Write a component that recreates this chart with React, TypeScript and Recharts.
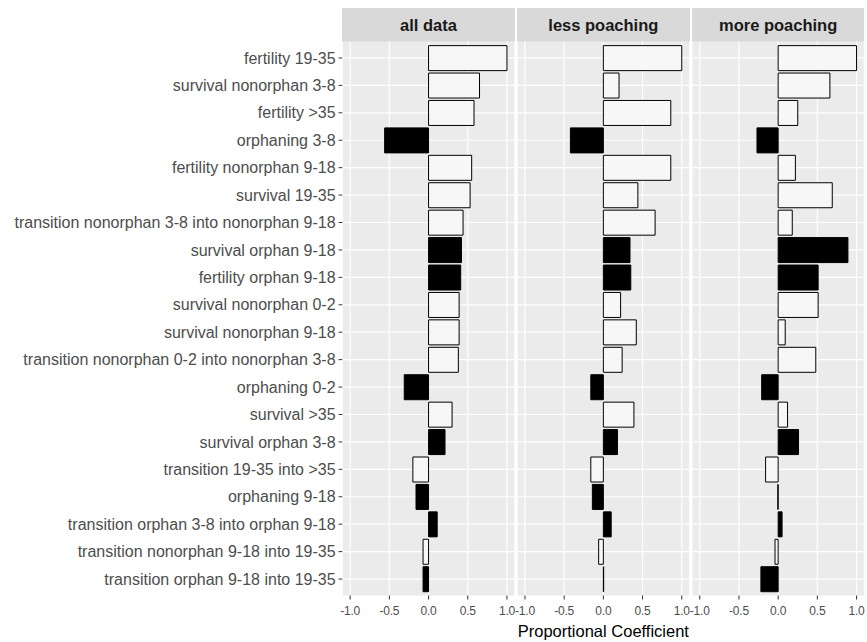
import React from 'react';
import { BarChart, Bar, Cell, XAxis, YAxis, CartesianGrid, ReferenceLine } from 'recharts';

const CATEGORIES = [
  'fertility 19-35',
  'survival nonorphan 3-8',
  'fertility >35',
  'orphaning 3-8',
  'fertility nonorphan 9-18',
  'survival 19-35',
  'transition nonorphan 3-8 into nonorphan 9-18',
  'survival orphan 9-18',
  'fertility orphan 9-18',
  'survival nonorphan 0-2',
  'survival nonorphan 9-18',
  'transition nonorphan 0-2 into nonorphan 3-8',
  'orphaning 0-2',
  'survival >35',
  'survival orphan 3-8',
  'transition 19-35 into >35',
  'orphaning 9-18',
  'transition orphan 3-8 into orphan 9-18',
  'transition nonorphan 9-18 into 19-35',
  'transition orphan 9-18 into 19-35',
];

// which rows concern orphans (drawn filled)
const KIND = [
  'other', 'other', 'other', 'orphan', 'other', 'other', 'other', 'orphan', 'orphan', 'other',
  'other', 'other', 'orphan', 'other', 'orphan', 'other', 'orphan', 'orphan', 'other', 'orphan',
];

const ALL_DATA = [
  1.0, 0.65, 0.58, -0.56, 0.55, 0.53, 0.44, 0.42, 0.41, 0.39,
  0.39, 0.38, -0.31, 0.3, 0.21, -0.2, -0.16, 0.11, -0.07, -0.07,
];
const LESS_POACHING = [
  1.0, 0.2, 0.86, -0.42, 0.86, 0.44, 0.66, 0.34, 0.35, 0.22,
  0.42, 0.24, -0.16, 0.39, 0.18, -0.16, -0.14, 0.1, -0.06, 0.004,
];
const MORE_POACHING = [
  1.0, 0.66, 0.25, -0.27, 0.22, 0.69, 0.18, 0.89, 0.51, 0.51,
  0.09, 0.48, -0.21, 0.12, 0.26, -0.16, -0.004, 0.05, -0.04, -0.22,
];

const FACETS = ['all data', 'less poaching', 'more poaching'];
const FACET_VALUES = [ALL_DATA, LESS_POACHING, MORE_POACHING];
const X_TICKS = [-1, -0.5, 0, 0.5, 1];

const W = 867;
const H = 642;
const PANEL_TOP = 41.5;
const PANEL_BOTTOM = 595.5;
const PANEL_W = 172.5;
const PANEL_LEFT = [342.3, 517.1, 691.9];
const X_AXIS_H = 30;
const BAND_PAD = 2.74;
const FONT = '"Liberation Sans", Arial, Helvetica, sans-serif';
const KIND_FILL: Record<string, string> = { orphan: '#000000', other: '#f7f7f7' };

function Panel({ index }: { index: number }) {
  const values = FACET_VALUES[index];
  const data = CATEGORIES.map((name, i) => ({ name, value: values[i], kind: KIND[i] }));
  const left = PANEL_LEFT[index];
  const first = index === 0;

  return (
    <div style={{ position: 'absolute', left: 0, top: 0 }}>
      <BarChart
        width={W}
        height={H}
        data={data}
        layout="vertical"
        barCategoryGap="5%"
        margin={{
          top: PANEL_TOP,
          bottom: H - PANEL_BOTTOM - X_AXIS_H,
          left: first ? 0 : left,
          right: W - left - PANEL_W,
        }}
      >
        <CartesianGrid horizontal={false} fill="#ebebeb" stroke="#ffffff" strokeWidth={1.2} />
        {CATEGORIES.map(c => (
          <ReferenceLine key={c} y={c} stroke="#ffffff" strokeWidth={1.2} zIndex={-90} />
        ))}
        <XAxis
          type="number"
          domain={[-1.1, 1.1]}
          ticks={X_TICKS}
          interval={0}
          height={X_AXIS_H}
          tickFormatter={(v: number) => v.toFixed(1)}
          tick={{ fontSize: 12, fill: '#4d4d4d', fontFamily: FONT, letterSpacing: -0.2 }}
          tickSize={4}
          tickMargin={6.5}
          tickLine={{ stroke: '#333333' }}
          axisLine={false}
        />
        <YAxis
          type="category"
          dataKey="name"
          hide={!first}
          width={first ? left : 0}
          interval={0}
          padding={{ top: BAND_PAD, bottom: BAND_PAD }}
          tick={{ fontSize: 16, fill: '#4d4d4d', fontFamily: FONT }}
          tickSize={3.7}
          tickMargin={3}
          tickLine={{ stroke: '#333333' }}
          axisLine={false}
        />
        <Bar dataKey="value" stroke="#000000" strokeWidth={1} isAnimationActive={false}>
          {data.map((d, i) => (
            <Cell key={i} fill={KIND_FILL[d.kind]} />
          ))}
        </Bar>
      </BarChart>
    </div>
  );
}

export default function App() {
  return (
    <div
      style={{
        position: 'absolute',
        left: 0,
        top: 0,
        width: W,
        height: H,
        background: '#ffffff',
        fontFamily: FONT,
        overflow: 'hidden',
      }}
    >
      {FACETS.map((f, i) => (
        <div
          key={f}
          style={{
            position: 'absolute',
            left: PANEL_LEFT[i],
            top: 8,
            width: PANEL_W,
            height: PANEL_TOP - 8,
            background: '#d9d9d9',
            color: '#1a1a1a',
            fontWeight: 'bold',
            fontSize: 16.5,
            lineHeight: `${PANEL_TOP - 8}px`,
            textAlign: 'center',
          }}
        >
          <span style={{ position: 'relative', top: 1 }}>{f}</span>
        </div>
      ))}
      {FACETS.map((f, i) => (
        <Panel key={f} index={i} />
      ))}
      <div
        style={{
          position: 'absolute',
          left: PANEL_LEFT[0],
          width: PANEL_LEFT[2] + PANEL_W - PANEL_LEFT[0],
          top: 621.5,
          fontSize: 16.5,
          lineHeight: '18px',
          color: '#000000',
          textAlign: 'center',
        }}
      >
        Proportional Coefficient
      </div>
    </div>
  );
}
